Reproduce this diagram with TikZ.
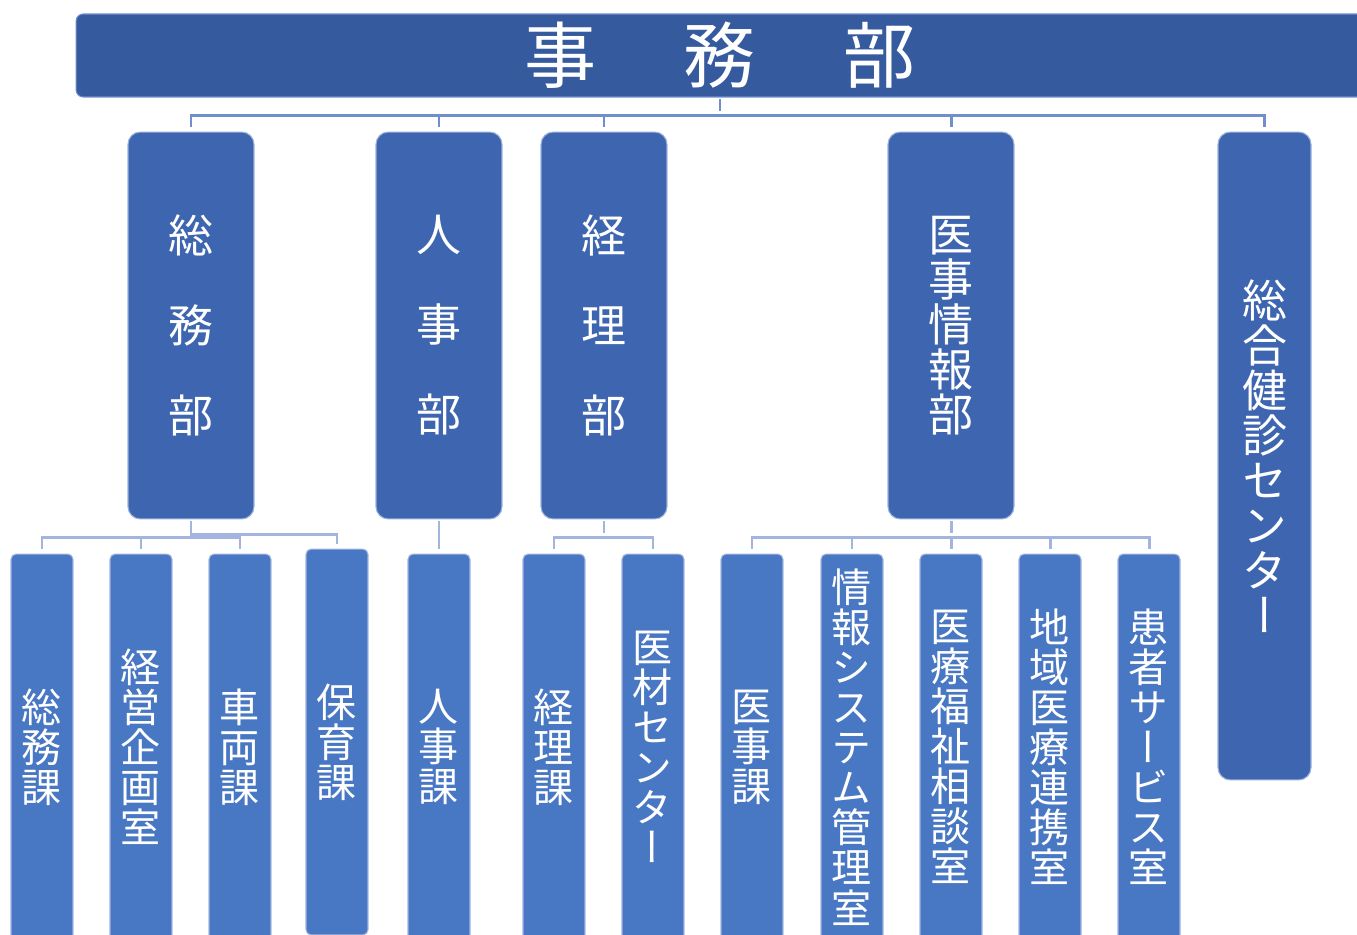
\documentclass[tikz,border=0pt]{standalone}
\usepackage{fontspec}
\setmainfont{Noto Sans CJK JP}
\newfontfamily\tatefont[RawFeature=+vert]{Noto Sans CJK JP}
\definecolor{jimublue}{HTML}{355A9E}
\definecolor{bublue}{HTML}{3E66B0}
\definecolor{kablue}{HTML}{4877C3}
\definecolor{linetop}{HTML}{6F8FCB}
\definecolor{linelow}{HTML}{A3B4DE}
\begin{document}
\begin{tikzpicture}[x=0.02cm,y=-0.02cm,
    topbar/.style={rectangle,fill=jimublue,draw=linetop,line width=0.6pt,rounded corners=4pt,
      minimum width=25.76cm,minimum height=1.66cm,text=white,inner sep=0pt,
      font=\fontsize{41pt}{41pt}\selectfont},
    bu/.style={rectangle,fill=bublue,draw=linetop!70!white,line width=0.6pt,rounded corners=7pt,
      minimum width=2.52cm,minimum height=7.74cm,text=white,inner sep=0pt,align=center,
      font=\tatefont\fontsize{25.6pt}{25.6pt}\selectfont},
    ka/.style={rectangle,fill=kablue,draw=linelow,line width=0.6pt,rounded corners=3pt,
      minimum width=1.24cm,minimum height=7.72cm,text=white,inner sep=0pt,align=center,
      font=\tatefont\fontsize{22.8pt}{22.8pt}\selectfont},
    line1/.style={draw=linetop,line width=1.7pt,shorten <=1pt,shorten >=2.3pt},
    line2/.style={draw=linelow,line width=1.7pt,shorten <=1pt,shorten >=2.8pt}]
  \clip (0,0) rectangle (1357,935);
  % top
  \node[topbar] (jimu) at (720,55.5) {事\hspace{50pt}務\hspace{50pt}部};
  % departments
  \node[bu] (somu) at (191,325.5) {総\\[25.6pt]務\\[25.6pt]部};
  \node[bu] (jinji) at (439,325.5) {人\\[25.6pt]事\\[25.6pt]部};
  \node[bu] (keiri) at (604,325.5) {経\\[25.6pt]理\\[25.6pt]部};
  \node[bu] (iji) at (951,325.5) {医\\事\\情\\報\\部};
  \node[bu,minimum width=1.86cm,minimum height=12.96cm] (kenshin) at (1264.5,456)
    {総\\合\\健\\診\\セ\\ン\\タ\\ー};
  % sections
  \node[ka] (somuka) at (42,747) {総\\務\\課};
  \node[ka] (keiei) at (141,747) {経\\営\\企\\画\\室};
  \node[ka] (sharyo) at (240,747) {車\\両\\課};
  \node[ka] (hoiku) at (337,742) {保\\育\\課};
  \node[ka] (jinjika) at (439,747) {人\\事\\課};
  \node[ka] (keirika) at (554,747) {経\\理\\課};
  \node[ka] (izai) at (653,747) {医\\材\\セ\\ン\\タ\\ー};
  \node[ka] (ijika) at (752,747) {医\\事\\課};
  \node[ka] (joho) at (852,747) {情\\報\\シ\\ス\\テ\\ム\\管\\理\\室};
  \node[ka] (fukushi) at (951,747) {医\\療\\福\\祉\\相\\談\\室};
  \node[ka] (renkei) at (1050,747) {地\\域\\医\\療\\連\\携\\室};
  \node[ka] (kanja) at (1149,747) {患\\者\\サ\\ー\\ビ\\ス\\室};
  % lines from the top
  \draw[line1] (jimu.south) -- ++(0,18) coordinate (tophub);
  \foreach \n in {somu,jinji,keiri,iji,kenshin}
    \draw[line1,shorten <=0pt] (tophub) -| (\n.north);
  % lines to the sections
  \draw[line2] (somu.south) -- ++(0,18) coordinate (somuhub);
  \foreach \n in {somuka,keiei,sharyo}
    \draw[line2,shorten <=0pt] (somuhub) -| (\n.north);
  \draw[line2] (somu.south) -- ++(0,15) -| (hoiku.north);
  \draw[line2] (jinji) -- (jinjika);
  \draw[line2] (keiri.south) -- ++(0,18) coordinate (keirihub);
  \foreach \n in {keirika,izai}
    \draw[line2,shorten <=0pt] (keirihub) -| (\n.north);
  \draw[line2] (iji.south) -- ++(0,18) coordinate (ijihub);
  \foreach \n in {ijika,joho,fukushi,renkei,kanja}
    \draw[line2,shorten <=0pt] (ijihub) -| (\n.north);
\end{tikzpicture}
\end{document}
